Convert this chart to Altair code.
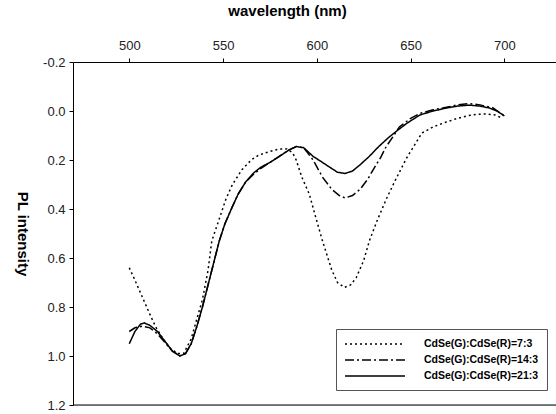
import altair as alt
import pandas as pd

series_names = ["CdSe(G):CdSe(R)=7:3", "CdSe(G):CdSe(R)=14:3", "CdSe(G):CdSe(R)=21:3"]

wl_73 = [500, 503, 507, 511, 514, 518, 522, 526, 529, 533, 536, 539, 542, 544, 548, 551.5, 555, 560, 565, 569,
         575, 580, 584, 587, 589, 592, 596, 600, 603, 608, 611, 614.7, 618, 621, 625, 628, 632, 637, 642, 648,
         652, 656, 662, 669, 675, 680, 685, 690, 695, 699]
pl_73 = [0.64, 0.69, 0.76, 0.83, 0.88, 0.93, 0.97, 0.99, 0.99, 0.93, 0.85, 0.77, 0.65, 0.53, 0.44, 0.36, 0.30, 0.24, 0.20, 0.18,
         0.165, 0.155, 0.155, 0.17, 0.20, 0.27, 0.34, 0.45, 0.53, 0.65, 0.70, 0.72, 0.71, 0.68, 0.61, 0.53, 0.45, 0.36, 0.28, 0.19,
         0.14, 0.09, 0.065, 0.045, 0.03, 0.02, 0.014, 0.012, 0.016, 0.03]

wl_143 = [500, 503, 507, 511, 515, 519, 523, 527, 530, 533, 536, 539, 542, 545, 548, 551, 555, 558, 562, 566,
          570, 575, 580, 585, 589, 593, 598, 603, 608, 612, 615, 619, 623, 627, 630, 634, 637, 641, 644, 650,
          655, 662, 669, 675, 681, 687, 694, 700]
pl_143 = [0.90, 0.885, 0.878, 0.885, 0.91, 0.945, 0.98, 1.0, 0.99, 0.95, 0.88, 0.80, 0.71, 0.62, 0.53, 0.46, 0.39, 0.34, 0.29, 0.26,
          0.235, 0.21, 0.185, 0.16, 0.145, 0.15, 0.20, 0.27, 0.32, 0.345, 0.355, 0.345, 0.32, 0.28, 0.24, 0.19, 0.145, 0.10, 0.065, 0.03,
          0.01, -0.005, -0.015, -0.025, -0.03, -0.025, -0.012, 0.02]

wl_213 = [500, 503, 506, 508, 511, 515, 519, 523, 527, 530, 533, 536, 539, 542, 545, 548, 551, 555, 558, 562,
          566, 570, 575, 580, 585, 589, 593, 598, 602, 607, 611, 615, 619, 623, 628, 633, 638, 642, 648, 655,
          662, 669, 675, 681, 687, 692, 696, 700]
pl_213 = [0.95, 0.90, 0.87, 0.865, 0.875, 0.90, 0.94, 0.98, 1.0, 0.99, 0.95, 0.88, 0.80, 0.71, 0.62, 0.53, 0.46, 0.39, 0.34, 0.29,
          0.255, 0.23, 0.21, 0.185, 0.16, 0.145, 0.15, 0.185, 0.205, 0.23, 0.25, 0.255, 0.245, 0.22, 0.185, 0.145, 0.11, 0.085, 0.05, 0.016,
          0.0, -0.012, -0.02, -0.024, -0.02, -0.012, 0.0, 0.02]

x_ticks = [500, 550, 600, 650, 700]
y_ticks = [-0.2, 0.0, 0.2, 0.4, 0.6, 0.8, 1.0, 1.2]

rows = []
for name, wl, pl in zip(series_names, [wl_73, wl_143, wl_213], [pl_73, pl_143, pl_213]):
    for i, (w, p) in enumerate(zip(wl, pl)):
        rows.append({"series": name, "wavelength": w, "pl": p, "order": i})
df = pd.DataFrame(rows)

xscale = alt.Scale(domain=[470, 727.5], nice=False, zero=False)
yscale = alt.Scale(domain=[-0.2, 1.2], reverse=True, nice=False, zero=False)

lines = alt.Chart(df).mark_line(color="black", strokeWidth=1.5, clip=True).encode(
    x=alt.X("wavelength:Q", scale=xscale,
            axis=alt.Axis(orient="top", values=x_ticks, format="d", title="wavelength (nm)",
                          titleX=214, titleAnchor="start", titleAlign="center",
                          grid=False, domainColor="black", tickColor="black", tickSize=4,
                          labelFontSize=13, labelColor="#222", labelPadding=6,
                          titleFontSize=15, titleFontWeight="bold", titlePadding=21)),
    y=alt.Y("pl:Q", scale=yscale,
            axis=alt.Axis(values=y_ticks, title="PL intensity", titleAngle=90,
                          labelExpr="datum.value < 0 ? '-' + format(-datum.value, '.1f') : format(datum.value, '.1f')",
                          grid=False, domainColor="black", tickColor="black", tickSize=4,
                          labelFontSize=13, labelColor="#222", labelPadding=4,
                          titleFontSize=15, titleFontWeight="bold", titlePadding=28)),
    strokeDash=alt.StrokeDash("series:N",
                              scale=alt.Scale(domain=series_names, range=[[2, 3], [9, 3, 2, 3], [1, 0]]),
                              legend=alt.Legend(title=None, orient="none", legendX=263, legendY=267,
                                                direction="vertical",
                                                strokeColor="#555", fillColor="white", padding=8,
                                                symbolType="M-1,0H9", symbolSize=144,
                                                symbolStrokeColor="black", symbolStrokeWidth=1.5,
                                                labelOffset=66, labelFontSize=10.5, labelFontWeight="bold",
                                                labelColor="black", rowPadding=3)),
    order="order:Q",
)

bottom = alt.Chart(pd.DataFrame({"y": [1.2]})).mark_rule(color="black", strokeWidth=1).encode(
    y=alt.Y("y:Q", scale=yscale)
)

chart = alt.layer(lines, bottom).properties(
    width=483, height=343,
    autosize=alt.AutoSizeParams(type="none"),
    padding={"left": 73, "top": 62, "right": 0, "bottom": 9},
).configure_view(stroke=None).configure(font="Liberation Sans")

chart.save("out.html", embed_options={"renderer": "svg", "actions": False})
